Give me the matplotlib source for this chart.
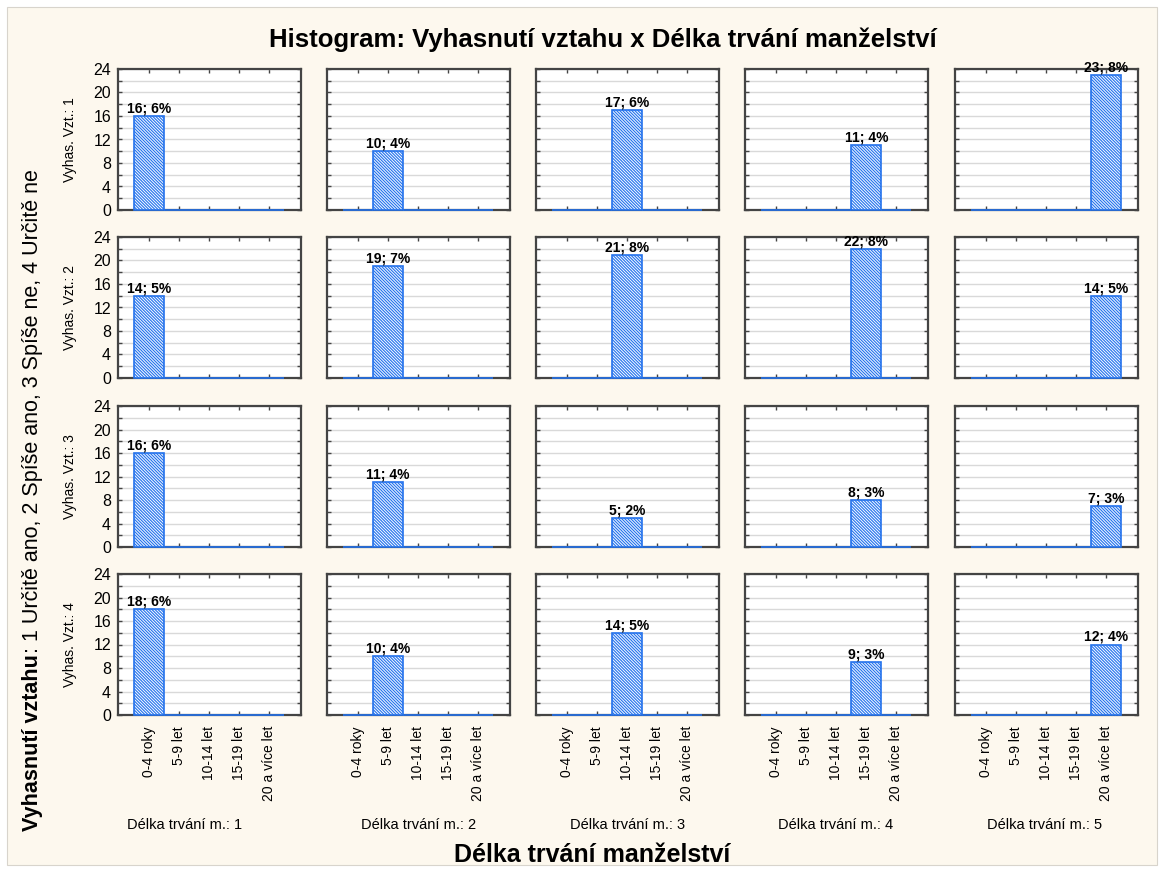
import matplotlib.pyplot as plt
import numpy as np
from matplotlib.patches import Rectangle

plt.rcParams['font.family'] = ['Liberation Sans', 'DejaVu Sans']
plt.rcParams['hatch.linewidth'] = 0.8

categories = ['0-4 roky', '5-9 let', '10-14 let', '15-19 let', '20 a více let']
col_labels = ['Délka trvání m.: 1', 'Délka trvání m.: 2', 'Délka trvání m.: 3',
              'Délka trvání m.: 4', 'Délka trvání m.: 5']
row_labels = ['Vyhas. Vzt.: 1', 'Vyhas. Vzt.: 2', 'Vyhas. Vzt.: 3', 'Vyhas. Vzt.: 4']

# count in cell (row = Vyhasnutí vztahu, column = Délka trvání)
counts = [
    [16, 10, 17, 11, 23],
    [14, 19, 21, 22, 14],
    [16, 11, 5, 8, 7],
    [18, 10, 14, 9, 12],
]
percents = [
    [6, 4, 6, 4, 8],
    [5, 7, 8, 8, 5],
    [6, 4, 2, 3, 3],
    [6, 4, 5, 3, 4],
]

W, H = 1164, 872
fig = plt.figure(figsize=(W / 100, H / 100), dpi=100)
fig.patch.set_facecolor('white')
fig.patches.append(Rectangle((7 / W, 7 / H), 1 - 14 / W, 1 - 14 / H,
                             transform=fig.transFigure, facecolor='#FDF8EE',
                             edgecolor='#D8D4CC', linewidth=0.8, zorder=-10))

col_x = [118, 327, 536, 745, 955]
row_y = [69, 237, 406, 574]
col_label_x = [185, 419, 628, 836, 1045]
aw, ah = 183, 141
blue = '#2472EC'

for r in range(4):
    for c in range(5):
        ax = fig.add_axes([col_x[c] / W, 1 - (row_y[r] + ah) / H, aw / W, ah / H])
        vals = [counts[r][c] if i == c else 0 for i in range(5)]
        x = np.arange(5)
        ax.bar(x, vals, width=1.0, facecolor='#F2F8FF', edgecolor=blue,
               hatch='\\' * 11, linewidth=1.2, zorder=3, clip_on=False)
        ax.text(c, counts[r][c] + 0.1, f'{counts[r][c]}; {percents[r][c]}%',
                ha='center', va='bottom', fontsize=10, fontweight='bold', zorder=4)
        ax.set_xlim(-1.03, 5.05)
        ax.set_ylim(0, 24)
        ax.set_yticks(np.arange(0, 25, 2))
        ax.yaxis.grid(True, color='#D9D9D9', linewidth=1.0, zorder=0)
        ax.set_axisbelow(True)
        ax.set_xticks(x)
        ax.tick_params(axis='both', direction='in', length=3, width=1,
                       color='#444444', top=True, right=True)
        if c == 0:
            ax.set_yticklabels([str(v) if v % 4 == 0 else '' for v in range(0, 25, 2)],
                               fontsize=11.5)
            ax.tick_params(axis='y', pad=5)
            ax.text(-0.26, 0.5, row_labels[r], rotation=90, transform=ax.transAxes,
                    ha='center', va='center', fontsize=10)
        else:
            ax.set_yticklabels([])
        if r == 3:
            ax.set_xticklabels(categories, rotation=90, fontsize=10)
            ax.tick_params(axis='x', pad=8)
        else:
            ax.set_xticklabels([])
        for s in ax.spines.values():
            s.set_color('#444444')
            s.set_linewidth(1.6)

for c in range(5):
    fig.text(col_label_x[c] / W, 1 - 825 / H, col_labels[c],
             ha='center', va='center', fontsize=10.5)

fig.text(603 / W, 1 - 40 / H, 'Histogram: Vyhasnutí vztahu x Délka trvání manželství',
         ha='center', va='center', fontsize=18.5, fontweight='bold')
fig.text(592 / W, 1 - 855 / H, 'Délka trvání manželství',
         ha='center', va='center', fontsize=18, fontweight='bold')

# left title: bold part + normal part
fig.canvas.draw()
renderer = fig.canvas.get_renderer()
t1 = fig.text(33 / W, 1 - 831 / H, 'Vyhasnutí vztahu', rotation=90,
              ha='center', va='bottom', fontsize=15.5, fontweight='bold')
bb = t1.get_window_extent(renderer)
fig.text(33 / W, (bb.y1 + 1) / H, ': 1 Určitě ano, 2 Spíše ano, 3 Spíše ne, 4 Určitě ne',
         rotation=90, ha='center', va='bottom', fontsize=15.5)

fig.savefig('out.png', dpi=100, facecolor=fig.get_facecolor())
